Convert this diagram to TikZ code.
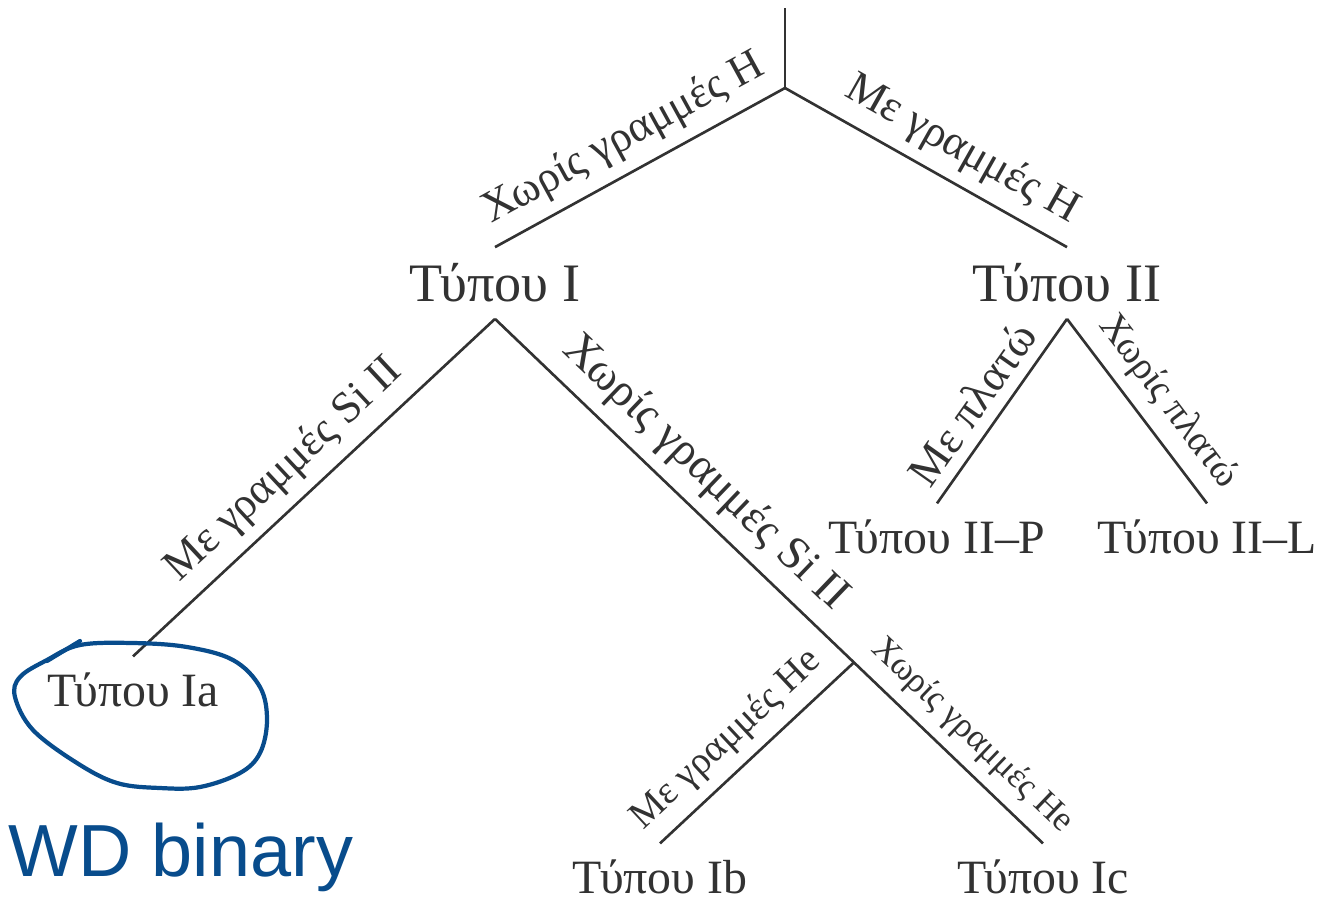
\documentclass[tikz,border=0pt]{standalone}
\usepackage{fontspec}
\setmainfont{Liberation Serif}
\newfontfamily\handfont{Liberation Sans}
\usetikzlibrary{calc}
\definecolor{inkgray}{RGB}{50,50,50}
\definecolor{penblue}{RGB}{8,76,140}
\tikzset{
  typ/.style={text=inkgray, font=\fontsize{15.4}{18}\selectfont, inner sep=4.5pt},
  subtyp/.style={typ, font=\fontsize{13.6}{16}\selectfont},
  lbl/.style={text=inkgray, font=\fontsize{12.6}{15}\selectfont, sloped, above, inner sep=3.2pt},
  smalllbl/.style={lbl, font=\fontsize{#1}{13}\selectfont},
  branch/.style={draw=inkgray, line width=0.75pt},
  pen/.style={draw=penblue, line width=1.2pt, line cap=round, line join=round}
}
\begin{document}
\begin{tikzpicture}[x=0.01cm, y=-0.01cm]
\useasboundingbox (0,0) rectangle (1321,902);

% top of the tree
\coordinate (top) at (785,8);
\coordinate (fork) at (785,88);
\node[typ] (t1) at (495,283) {Τύπου I};
\node[typ] (t2) at (1067,283) {Τύπου II};

\draw[branch] (top) -- (fork);
\draw[branch] (fork) -- node[lbl, pos=0.5] {Χωρίς γραμμές H} (t1.north);
\draw[branch] (fork) -- node[lbl, pos=0.57] {Με γραμμές H} (t2.north);

% type I
\node[subtyp] (ia) at (133,690) {Τύπου Ia};
\node[subtyp] (ib) at (660,877) {Τύπου Ib};
\node[subtyp] (ic) at (1043,877) {Τύπου Ic};
\coordinate (jn) at ($(t1.south)!0.655!(ic.north)$);

\draw[branch] (t1.south) -- node[lbl, pos=0.52] {Με γραμμές Si II} (ia.north);
\draw[branch] (t1.south) -- node[smalllbl=13.2, pos=0.52] {Χωρίς γραμμές Si II} (jn);
\draw[branch] (jn) -- node[smalllbl=10, pos=0.52] {Χωρίς γραμμές He} (ic.north);
\draw[branch] (jn) -- node[smalllbl=11, pos=0.55] {Με γραμμές He} (ib.north);

% type II
\node[subtyp] (t2p) at (937,537) {Τύπου II--P};
\node[subtyp] (t2l) at (1207,537) {Τύπου II--L};

\draw[branch] (t2.south) -- node[smalllbl=12.9, pos=0.55] {Με πλατώ} (t2p.north);
\draw[branch] (t2.south) -- node[smalllbl=11, pos=0.55] {Χωρίς πλατώ} (t2l.north);

% pen marks
\draw[pen] plot[smooth cycle, tension=0.6] coordinates {
  (80,645) (133,643) (187,647) (233,660) (260,687) (267,720) (260,753)
  (240,773) (200,787) (160,788) (117,783) (77,763) (33,730) (15,697)
  (20,677) (47,660)};
\draw[pen] (47,661) -- (80,641);
\node[text=penblue, font=\handfont\fontsize{21}{24}\selectfont, anchor=west] (note) at (-4,857) {WD binary};
\end{tikzpicture}
\end{document}
